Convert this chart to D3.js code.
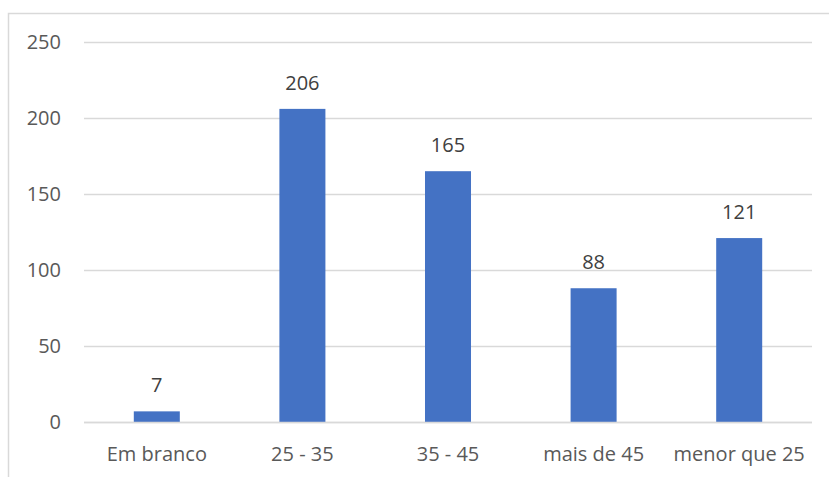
<!DOCTYPE html>
<html>
<head>
<meta charset="utf-8">
<script src="https://cdn.jsdelivr.net/npm/d3@7"></script>
<style>
  html, body { margin: 0; padding: 0; background: #fff; }
  svg { display: block; }
</style>
</head>
<body>
<script>
// Age bracket counts
const categories = ["Em branco", "25 - 35", "35 - 45", "mais de 45", "menor que 25"];
const values = [7, 206, 165, 88, 121];
const yTicks = [0, 50, 100, 150, 200, 250];

const W = 829, H = 477;
const margin = { left: 84, right: 17, top: 42, bottom: 55 };
const font = "'Open Sans', sans-serif";
const fontSize = 20;

const svg = d3.select("body").append("svg")
  .attr("width", W).attr("height", H);

// Outer chart frame (left and top edges)
svg.append("path")
  .attr("d", `M8.5,${H} L8.5,13.5 L${W},13.5`)
  .attr("fill", "none").attr("stroke", "#d9d9d9").attr("stroke-width", 1.5);

const x = d3.scaleBand()
  .domain(categories)
  .range([margin.left, W - margin.right])
  .paddingInner(0.684).paddingOuter(0.342);

const y = d3.scaleLinear()
  .domain([0, 250])
  .range([H - margin.bottom, margin.top]);

// Gridlines
svg.append("g").selectAll("line").data(yTicks).join("line")
  .attr("x1", margin.left).attr("x2", W - margin.right)
  .attr("y1", d => Math.round(y(d)) + 0.5).attr("y2", d => Math.round(y(d)) + 0.5)
  .attr("stroke", "#d9d9d9").attr("stroke-width", 1.3);

// Y axis labels
const yAxis = d3.axisLeft(y).tickValues(yTicks).tickSize(0).tickPadding(23);
const gy = svg.append("g").attr("transform", `translate(${margin.left},0)`).call(yAxis);
gy.select(".domain").remove();
gy.selectAll("text").attr("font-family", font).attr("font-size", fontSize).attr("fill", "#595959");

// Bars
svg.append("g").selectAll("rect").data(values).join("rect")
  .attr("x", (d, i) => x(categories[i]))
  .attr("width", x.bandwidth())
  .attr("y", d => y(d))
  .attr("height", d => y(0) - y(d))
  .attr("fill", "#4472c4");

// Redraw the baseline over the bars
svg.append("line")
  .attr("x1", margin.left).attr("x2", W - margin.right)
  .attr("y1", Math.round(y(0)) + 0.5).attr("y2", Math.round(y(0)) + 0.5)
  .attr("stroke", "#d9d9d9").attr("stroke-width", 1.3);

// Value labels
svg.append("g").selectAll("text").data(values).join("text")
  .attr("x", (d, i) => x(categories[i]) + x.bandwidth() / 2)
  .attr("y", d => y(d) - 19)
  .attr("text-anchor", "middle")
  .attr("font-family", font).attr("font-size", fontSize).attr("fill", "#404040")
  .text(d => d);

// X axis labels
const xAxis = d3.axisBottom(x).tickSize(0).tickPadding(25);
const gx = svg.append("g").attr("transform", `translate(0,${y(0)})`).call(xAxis);
gx.select(".domain").remove();
gx.selectAll("text").attr("font-family", font).attr("font-size", fontSize).attr("fill", "#595959");
</script>
</body>
</html>
